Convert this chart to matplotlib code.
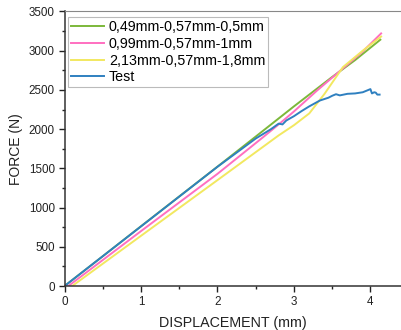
import numpy as np
import matplotlib
matplotlib.use("Agg")
import matplotlib.pyplot as plt
from matplotlib.ticker import MultipleLocator

plt.rcParams["font.family"] = ["Liberation Sans", "DejaVu Sans"]

# ── Data ──────────────────────────────────────────────────────────────────────
green_x = [0, 0.5, 1, 1.5, 2, 2.5, 3, 3.5, 3.8, 4.13]
green_y = [0, 380, 762, 1142, 1522, 1905, 2290, 2665, 2880, 3140]

pink_x = [0, 0.05, 1, 2, 2.6, 2.8, 3.0, 3.3, 3.6, 3.9, 4.14]
pink_y = [0, 0, 700, 1430, 1900, 2060, 2225, 2490, 2740, 2990, 3220]

yellow_x = [0.1, 1, 2, 2.8, 3.0, 3.2, 3.4, 3.64, 3.9, 4.14]
yellow_y = [0, 640, 1350, 1920, 2050, 2200, 2450, 2790, 3000, 3180]

blue_x = [0, 1, 2, 2.5, 2.7, 2.8, 2.85, 2.9, 3.0, 3.1, 3.2, 3.34, 3.45, 3.5,
          3.55, 3.6, 3.7, 3.8, 3.9, 3.95, 4.0, 4.02, 4.05, 4.07, 4.09, 4.12]
blue_y = [0, 760, 1520, 1880, 2000, 2070, 2060, 2110, 2165, 2230, 2290, 2365,
          2400, 2425, 2445, 2430, 2450, 2455, 2470, 2490, 2510, 2455, 2470,
          2465, 2440, 2440]

labels = ["0,49mm-0,57mm-0,5mm", "0,99mm-0,57mm-1mm", "2,13mm-0,57mm-1,8mm", "Test"]
colors = ["#7cb83a", "#ff6fc0", "#f2e860", "#2f80c0"]

# ── Plot ──────────────────────────────────────────────────────────────────────
fig = plt.figure(figsize=(4.01, 3.30), dpi=100)
ax = fig.add_axes([0.161, 0.1333, 0.839, 0.832])

for (x, y), lab, c in zip([(green_x, green_y), (pink_x, pink_y),
                           (yellow_x, yellow_y), (blue_x, blue_y)], labels, colors):
    ax.plot(x, y, color=c, lw=1.4, label=lab)

ax.set_xlim(0, 4.40)
ax.set_ylim(0, 3500)
ax.xaxis.set_major_locator(MultipleLocator(1))
ax.xaxis.set_minor_locator(MultipleLocator(0.5))
ax.yaxis.set_major_locator(MultipleLocator(500))
ax.yaxis.set_minor_locator(MultipleLocator(250))
ax.tick_params(which="major", direction="out", length=4, width=1, labelsize=8.4,
               colors="#222222", pad=3)
ax.tick_params(which="minor", direction="out", length=2.5, width=1, colors="#222222")

ax.spines["right"].set_visible(False)
ax.spines["top"].set_color("#888888")
for s in ["left", "bottom"]:
    ax.spines[s].set_color("#333333")
    ax.spines[s].set_linewidth(1.1)

ax.set_xlabel("DISPLACEMENT (mm)", fontsize=10.3, labelpad=6, color="#222222")
ax.set_ylabel("FORCE (N)", fontsize=10, labelpad=4, color="#222222")

leg = ax.legend(loc="upper left", bbox_to_anchor=(0.0104, 0.98), borderaxespad=0,
                fontsize=10.3, fancybox=False, handlelength=2.3, labelspacing=0.2,
                borderpad=0.2, handletextpad=0.35)
leg.get_frame().set_edgecolor("#aaaaaa")
leg.get_frame().set_linewidth(0.8)

plt.savefig("out.png", dpi=100)
